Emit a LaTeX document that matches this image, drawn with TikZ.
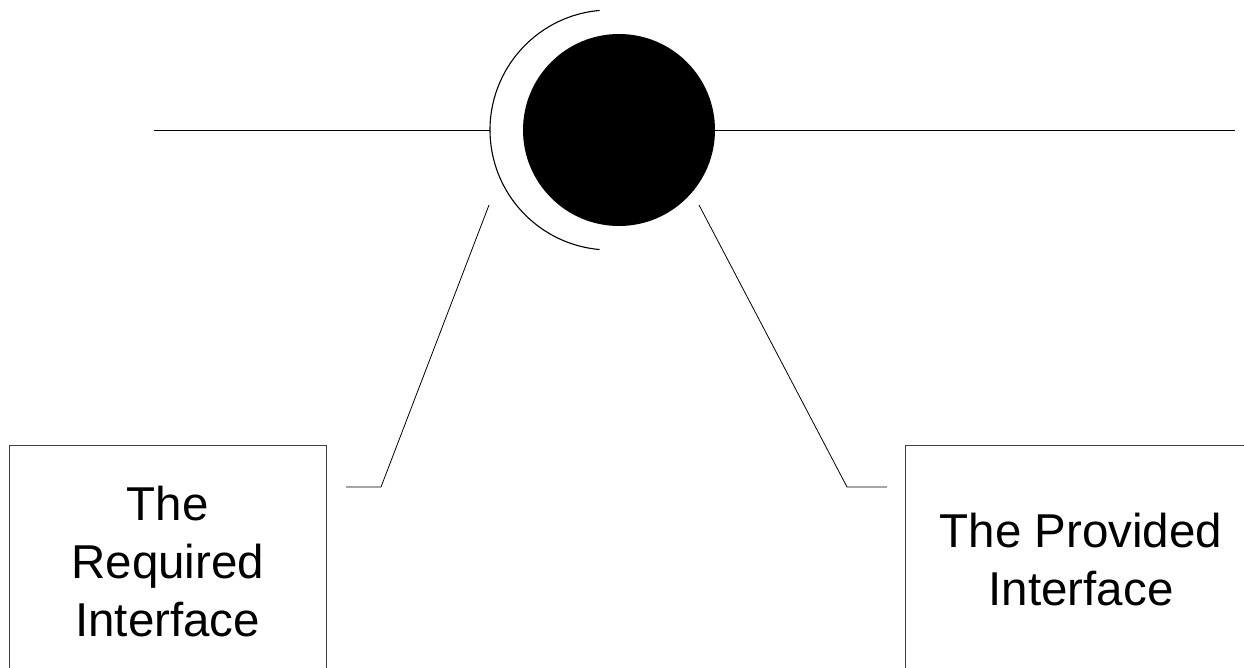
\documentclass[tikz,border=0pt]{standalone}
\usepackage{fontspec}
\setmainfont{Liberation Sans}
\begin{document}
\begin{tikzpicture}[x=1pt,y=-1pt,
  thin line/.style={draw=black,line width=0.8pt},
  labelbox/.style={draw=black!75,line width=0.9pt,rectangle,align=center,
    inner sep=0pt,
    font=\fontsize{47.5}{58}\selectfont},
  ball/.style={circle,fill=black,draw=none,minimum size=192pt,inner sep=0pt}]
\useasboundingbox (0,0) rectangle (1244,668);
\clip (0,0) rectangle (1244,668);
% ball and socket
\node[ball] (ball) at (619,130) {};
\coordinate (arcC) at (610,130);
\coordinate (arcW) at (490,130);
\draw[line width=1.1pt] ([shift={(95:120pt)}]arcC) arc[start angle=95,end angle=265,radius=120pt];
% horizontal line
\coordinate (lineL) at (154,130);
\coordinate (lineR) at (1235,130);
\draw[thin line] (lineL) -- (arcW);
\draw[thin line] (ball.east) -- (lineR);
% boxes
\node[labelbox,minimum width=316.5pt,minimum height=233.4pt] (req) at (167.75,561.7) {The\\Required\\Interface};
\node[labelbox,minimum width=352pt,minimum height=228.4pt] (prov) at (1081,559.2) {The Provided\\Interface};
% leader lines
\coordinate (reqA) at (489,205);
\coordinate (reqB) at (381,487);
\coordinate (reqC) at (346,487);
\draw[thin line] (reqA) -- (reqB) -- (reqC);
\coordinate (provA) at (699,205);
\coordinate (provB) at (847,487);
\coordinate (provC) at (887,487);
\draw[thin line] (provA) -- (provB) -- (provC);
\end{tikzpicture}
\end{document}
